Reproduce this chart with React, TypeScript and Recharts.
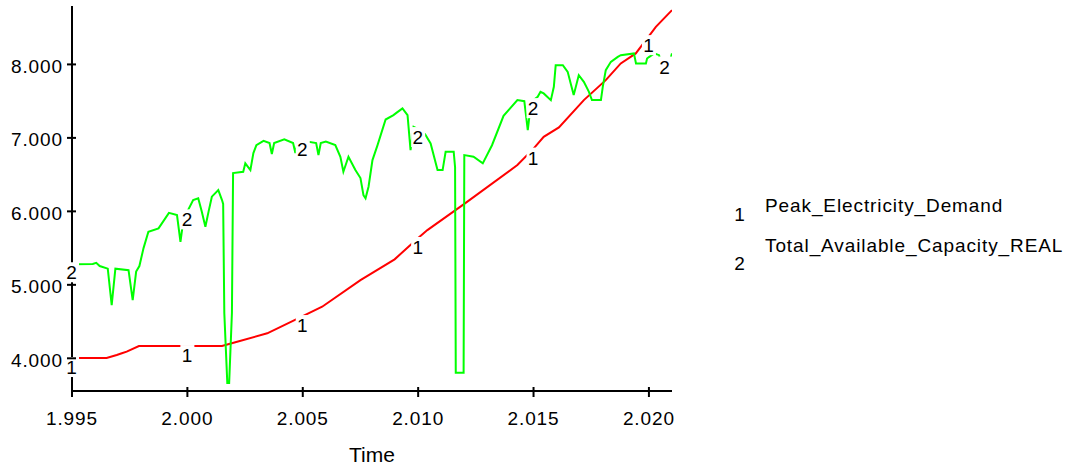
import { LineChart, Line, XAxis, YAxis, Legend, ReferenceDot } from "recharts";

const FONT = '"Liberation Sans", Arial, sans-serif';

// Peak_Electricity_Demand (series 1)
const demandYears = [
  1995, 1996.5, 1996.94, 1997.16, 1997.37, 1997.9, 2000, 2001.5, 2002, 2003.46,
  2005, 2005.84, 2007.5, 2008.98, 2010, 2010.4, 2012, 2014.3, 2015, 2015.44,
  2016.1, 2017.18, 2018.13, 2018.78, 2019.43, 2020, 2020.3, 2021,
];
const demandValues = [
  4004, 4004, 4045, 4068, 4090, 4167, 4167, 4167, 4212, 4340,
  4575, 4702, 5065, 5347, 5638, 5745, 6102, 6630, 6854, 7015,
  7143, 7514, 7786, 8013, 8150, 8385, 8512, 8738,
];

// Total_Available_Capacity_REAL (series 2)
const capacityYears = [
  1995, 1995.9, 1996.05, 1996.2, 1996.55, 1996.72, 1996.88, 1997.45, 1997.63, 1997.78,
  1997.92, 1998.1, 1998.31, 1998.75, 1999.2, 1999.55, 1999.7, 1999.86, 2000, 2000.25,
  2000.47, 2000.62, 2000.78, 2000.92, 2001.06, 2001.34, 2001.5, 2001.55, 2001.6, 2001.73,
  2001.81, 2001.93, 2001.98, 2002.42, 2002.51, 2002.73, 2002.86, 2002.99, 2003.3, 2003.56,
  2003.66, 2003.76, 2004.2, 2004.58, 2004.68, 2004.78, 2005, 2005.58, 2005.68, 2005.78,
  2006, 2006.41, 2006.63, 2006.76, 2006.98, 2007.28, 2007.5, 2007.63, 2007.72, 2007.85,
  2008.02, 2008.24, 2008.59, 2008.93, 2009.1, 2009.32, 2009.54, 2009.67, 2009.8, 2010,
  2010.3, 2010.54, 2010.84, 2011.06, 2011.19, 2011.54, 2011.6, 2011.63, 2011.97, 2012,
  2012.4, 2012.8, 2013.2, 2013.7, 2014.3, 2014.6, 2014.75, 2014.9, 2015, 2015.18,
  2015.3, 2015.44, 2015.75, 2015.88, 2015.96, 2016.27, 2016.48, 2016.61, 2016.74, 2016.96,
  2017.18, 2017.4, 2017.53, 2017.92, 2018, 2018.13, 2018.35, 2018.65, 2018.78, 2019.35,
  2019.44, 2019.87, 2019.92, 2020, 2020.23, 2020.44, 2020.53, 2020.7, 2020.88, 2021,
];
const capacityValues = [
  5280, 5283, 5300, 5256, 5220, 4725, 5220, 5200, 4793, 5180,
  5256, 5500, 5722, 5769, 5980, 5950, 5586, 5960, 6000, 6154,
  6177, 6000, 5790, 6000, 6200, 6290, 6154, 6100, 4617, 3664,
  3664, 4617, 6521, 6539, 6653, 6562, 6793, 6902, 6960, 6930,
  6780, 6930, 6980, 6930, 6793, 6930, 6960, 6930, 6766, 6930,
  6950, 6902, 6743, 6539, 6743, 6562, 6453, 6220, 6177, 6335,
  6698, 6902, 7250, 7310, 7350, 7401, 7310, 6834, 7150, 7120,
  7050, 6925, 6562, 6562, 6811, 6811, 6600, 3804, 3804, 6766,
  6743, 6653, 6900, 7300, 7514, 7500, 7106, 7500, 7514, 7560,
  7627, 7605, 7514, 7695, 7990, 7990, 7899, 7741, 7582, 7854,
  7763, 7627, 7514, 7514, 7695, 7922, 8035, 8103, 8126, 8150,
  8013, 8013, 8080, 8100, 8150, 8126, 8013, 8080, 8013, 8150,
];

const xTicks = [1995, 2000, 2005, 2010, 2015, 2020];
const yTicks = [4000, 5000, 6000, 7000, 8000];
// years at which the "1" / "2" line markers sit
const demandLabelYears = [1995, 2000, 2005, 2010, 2015, 2020];
const capacityLabelYears = [1995, 2000, 2005, 2010, 2015, 2020.7];
const seriesNames = ["Peak_Electricity_Demand", "Total_Available_Capacity_REAL"];
const seriesColors = ["#ff0000", "#00ff00"];

const demandData = demandYears.map((t, i) => ({ t, v: demandValues[i] }));
const capacityData = capacityYears.map((t, i) => ({ t, v: capacityValues[i] }));

// 1995 -> "1.995", 8000 -> "8.000"
const fmt = (v: number) =>
  `${Math.floor(v / 1000)}.${String(Math.round(v) % 1000).padStart(3, "0")}`;

const textStyle = { fontFamily: FONT, fontSize: 19, letterSpacing: 0.9, fill: "#000" };

function YTick(props: any) {
  const { x, y, payload } = props;
  return (
    <g>
      <line x1={x - 5} x2={x + 4} y1={y} y2={y} stroke="#000" strokeWidth={2} />
      <text x={x - 9} y={y + 8.5} textAnchor="end" {...textStyle}>
        {fmt(payload.value)}
      </text>
    </g>
  );
}

function XTick(props: any) {
  const { x, y, payload } = props;
  return (
    <g>
      <line x1={x} x2={x} y1={y - 4} y2={y + 6} stroke="#000" strokeWidth={2} />
      <text x={x} y={y + 34} textAnchor="middle" {...textStyle}>
        {fmt(payload.value)}
      </text>
    </g>
  );
}

function NumLabel({ cx, cy, text, dy }: { cx: number; cy: number; text: string; dy: number }) {
  return (
    <g>
      <rect x={cx - 7} y={cy + dy - 10} width={14} height={20} fill="#fff" />
      <text x={cx} y={cy + dy + 7} textAnchor="middle" {...textStyle}>
        {text}
      </text>
    </g>
  );
}

function LegendBox() {
  return (
    <svg width={352} height={100} style={{ display: "block" }}>
      <text x={10} y={41} textAnchor="middle" {...textStyle}>1</text>
      <text x={35} y={32} {...textStyle}>{seriesNames[0]}</text>
      <text x={10} y={90} textAnchor="middle" {...textStyle}>2</text>
      <text x={35} y={72} {...textStyle}>{seriesNames[1]}</text>
    </svg>
  );
}

const valueAt = (data: { t: number; v: number }[], year: number) =>
  data.find((d) => d.t === year)?.v ?? 0;

export default function App() {
  return (
    <div style={{ position: "absolute", left: 0, top: 0, background: "#fff" }}>
      <LineChart
        width={1082}
        height={470}
        margin={{ top: 6, right: 410, bottom: 0, left: 0 }}
      >
        <XAxis
          dataKey="t"
          type="number"
          domain={[1995, 2021]}
          ticks={xTicks}
          interval={0}
          allowDataOverflow
          height={79}
          tickSize={0}
          tickMargin={0}
          tickLine={false}
          axisLine={{ stroke: "#000", strokeWidth: 2 }}
          tick={(p: any) => <XTick {...p} />}
          label={{
            value: "Time",
            position: "insideBottom",
            offset: 8,
            fontSize: 21,
            fontFamily: FONT,
            fill: "#000",
          }}
        />
        <YAxis
          type="number"
          domain={[3555, 8795]}
          ticks={yTicks}
          interval={0}
          allowDataOverflow
          width={72}
          tickSize={0}
          tickMargin={0}
          tickLine={false}
          axisLine={{ stroke: "#000", strokeWidth: 2 }}
          tick={(p: any) => <YTick {...p} />}
        />
        <Line
          data={demandData}
          dataKey="v"
          name={seriesNames[0]}
          type="linear"
          stroke={seriesColors[0]}
          strokeWidth={2}
          dot={false}
          isAnimationActive={false}
        />
        <Line
          data={capacityData}
          dataKey="v"
          name={seriesNames[1]}
          type="linear"
          stroke={seriesColors[1]}
          strokeWidth={2}
          dot={false}
          isAnimationActive={false}
        />
        {demandLabelYears.map((yr) => (
          <ReferenceDot
            key={`d${yr}`}
            x={yr}
            y={valueAt(demandData, yr)}
            r={0}
            ifOverflow="visible"
            shape={(p: any) => <NumLabel cx={p.cx} cy={p.cy} text="1" dy={9} />}
          />
        ))}
        {capacityLabelYears.map((yr) => (
          <ReferenceDot
            key={`c${yr}`}
            x={yr}
            y={valueAt(capacityData, yr)}
            r={0}
            ifOverflow="visible"
            shape={(p: any) => <NumLabel cx={p.cx} cy={p.cy} text="2" dy={8} />}
          />
        ))}
        <Legend
          layout="horizontal"
          verticalAlign="middle"
          align="center"
          wrapperStyle={{ left: 730, top: 180, width: 352, height: 100 }}
          content={() => <LegendBox />}
        />
      </LineChart>
    </div>
  );
}
